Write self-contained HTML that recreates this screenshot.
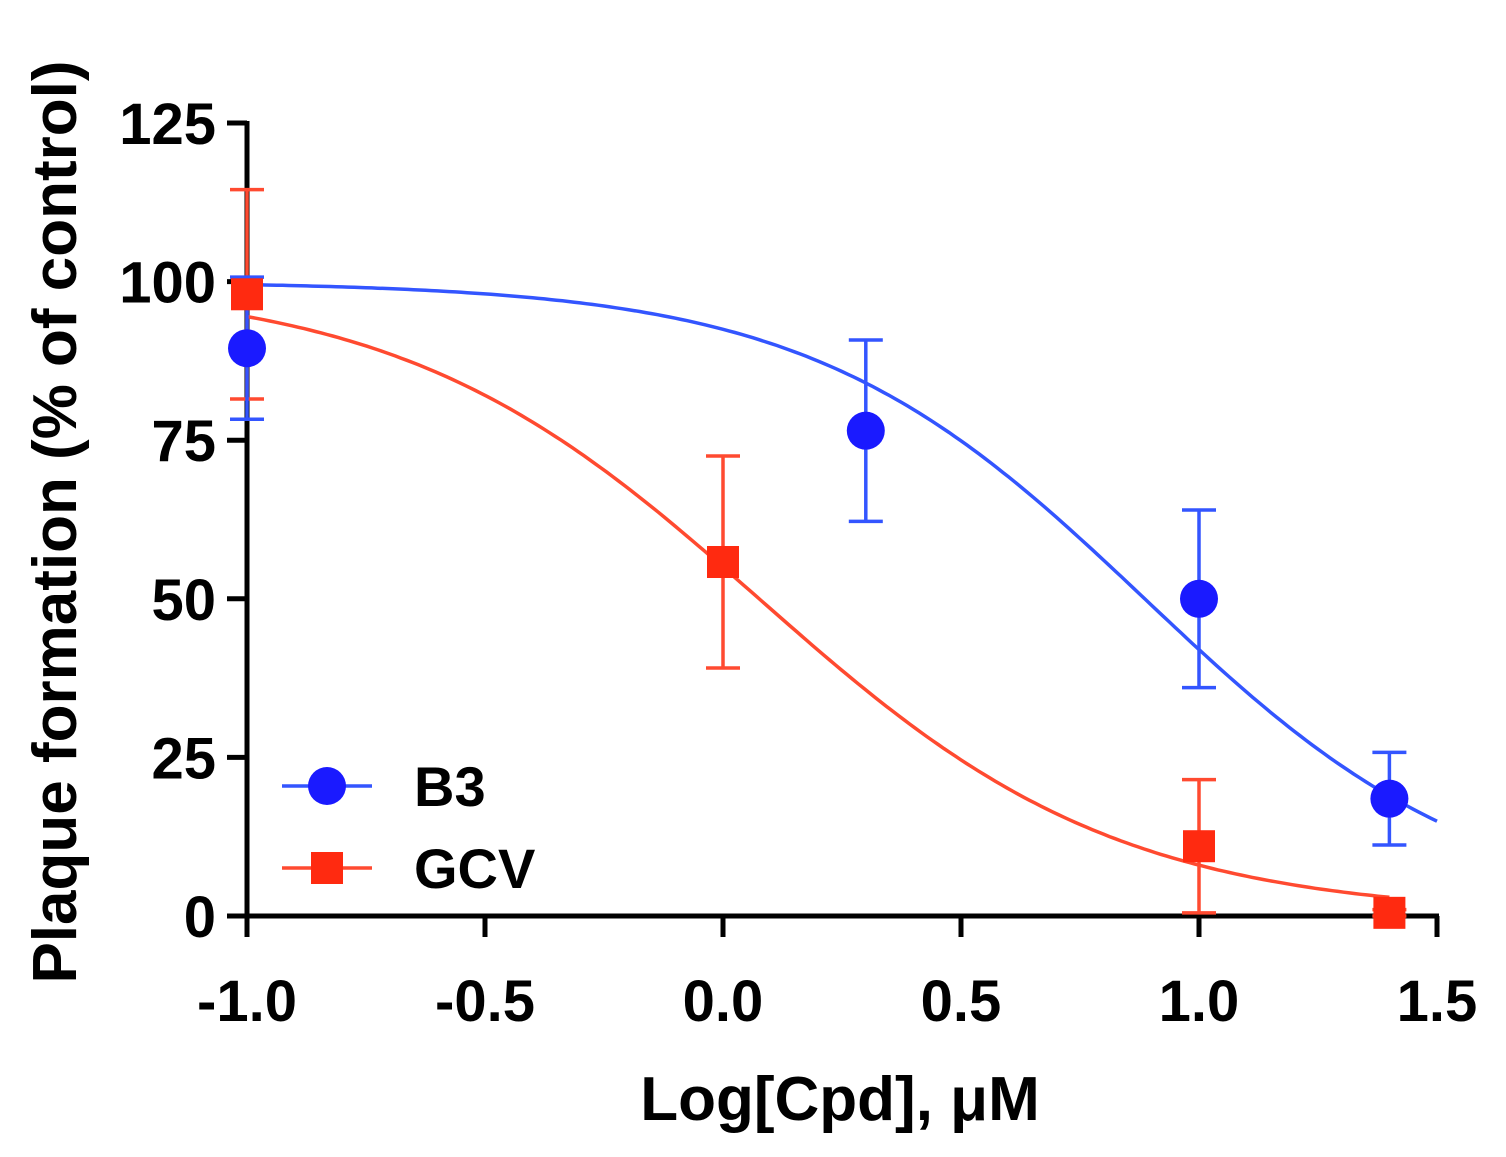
<!DOCTYPE html>
<html><head><meta charset="utf-8"><style>
html,body{margin:0;padding:0;background:#fff;}
svg{display:block;font-family:"Liberation Sans",Arial,sans-serif;font-weight:bold;}
</style></head><body>
<svg id="chart" width="1506" height="1157" viewBox="0 0 1506 1157"></svg>
<script>
const xTicks=[-1.0,-0.5,0.0,0.5,1.0,1.5];
const xTickLabels=["-1.0","-0.5","0.0","0.5","1.0","1.5"];
const yTicks=[0,25,50,75,100,125];
const yTickLabels=["0","25","50","75","100","125"];
const b3X=[-1,0.3,1,1.4];
const b3Y=[89.5,76.5,50,18.5];
const b3Err=[11.2,14.3,14,7.3];
const gcvX=[-1,0,1,1.4];
const gcvY=[98,55.8,11,0.5];
const gcvErr=[16.5,16.7,10.5,0.5];
const b3Fit=[100,0,0.886,1.23];   // top,bottom,logIC50,hill
const gcvFit=[100,0,0.076,1.147];

const svg=document.getElementById('chart');
const NS="http://www.w3.org/2000/svg";
const X=v=>723+(v)*476;
const Y=v=>916-v*6.344;
function el(t,a,p){const e=document.createElementNS(NS,t);for(const k in a)e.setAttribute(k,a[k]);(p||svg).appendChild(e);return e;}

let ax=el('line',{x1:247,y1:121,x2:247,y2:918,stroke:'#000','stroke-width':5});


ax=el('line',{x1:245,y1:916,x2:1439,y2:916,stroke:'#000','stroke-width':5});


yTicks.forEach((v,i)=>{
  const t=el('line',{x1:227,y1:Y(v),x2:247,y2:Y(v),stroke:'#000','stroke-width':5});
  
  
  const l=el('text',{x:216,y:Y(v)+21,'text-anchor':'end','font-size':58,fill:'#000'});
  l.textContent=yTickLabels[i];
  
  
});
xTicks.forEach((v,i)=>{
  const t=el('line',{x1:X(v),y1:916,x2:X(v),y2:937,stroke:'#000','stroke-width':5});
  
  
  const l=el('text',{x:X(v),y:1021,'text-anchor':'middle','font-size':58,fill:'#000'});
  l.textContent=xTickLabels[i];
  
  
});
let tt=el('text',{x:0,y:0,'text-anchor':'middle','font-size':62,fill:'#000',transform:'translate(76,522) rotate(-90)'});
tt.textContent='Plaque formation (% of control)';


tt=el('text',{x:840,y:1120,'text-anchor':'middle','font-size':62,fill:'#000'});
tt.textContent='Log[Cpd], μM';



function hill(p,x){return p[1]+(p[0]-p[1])/(1+Math.pow(10,(x-p[2])*p[3]));}
function curve(p,x0,x1,color,name){
  let d='';for(let i=0;i<=200;i++){const x=x0+(x1-x0)*i/200;d+=(i?'L':'M')+X(x).toFixed(1)+','+Y(hill(p,x)).toFixed(1);}
  const c=el('path',{d:d,fill:'none',stroke:color,'stroke-width':3.5});
  
  
}
curve(b3Fit,-1,1.5,'#3355ff','b3-fit-curve');
curve(gcvFit,-1,1.4,'#ff4a30','gcv-fit-curve');

function errs(xs,ys,es,color,name){
  xs.forEach((x,i)=>{
    const g=el('g',{stroke:color,'stroke-width':3.5});
    
    
    el('line',{x1:X(x),y1:Y(ys[i]+es[i]),x2:X(x),y2:Y(ys[i]-es[i])},g);
    el('line',{x1:X(x)-17,y1:Y(ys[i]+es[i]),x2:X(x)+17,y2:Y(ys[i]+es[i])},g);
    el('line',{x1:X(x)-17,y1:Y(ys[i]-es[i]),x2:X(x)+17,y2:Y(ys[i]-es[i])},g);
  });
}
errs(gcvX,gcvY,gcvErr,'#ff4a30','gcv-error-bar');
errs(b3X,b3Y,b3Err,'#3355ff','b3-error-bar');
gcvX.forEach((x,i)=>{
  const s=el('rect',{x:X(x)-16,y:Y(gcvY[i])-16,width:32,height:32,fill:'#ff2a10'});
  
  
});
b3X.forEach((x,i)=>{
  const c=el('circle',{cx:X(x),cy:Y(b3Y[i]),r:19,fill:'#1a1aff'});
  
  
});

let lg=el('g',{});


el('line',{x1:282,y1:786,x2:372,y2:786,stroke:'#3355ff','stroke-width':3.5},lg);
el('circle',{cx:327,cy:786,r:19,fill:'#1a1aff'},lg);
let lt=el('text',{x:414,y:806,'font-size':56,fill:'#000'},lg);lt.textContent='B3';
lg=el('g',{});


el('line',{x1:282,y1:868,x2:372,y2:868,stroke:'#ff4a30','stroke-width':3.5},lg);
el('rect',{x:311,y:852,width:32,height:32,fill:'#ff2a10'},lg);
lt=el('text',{x:414,y:888,'font-size':56,fill:'#000'},lg);lt.textContent='GCV';
</script>
</body></html>
